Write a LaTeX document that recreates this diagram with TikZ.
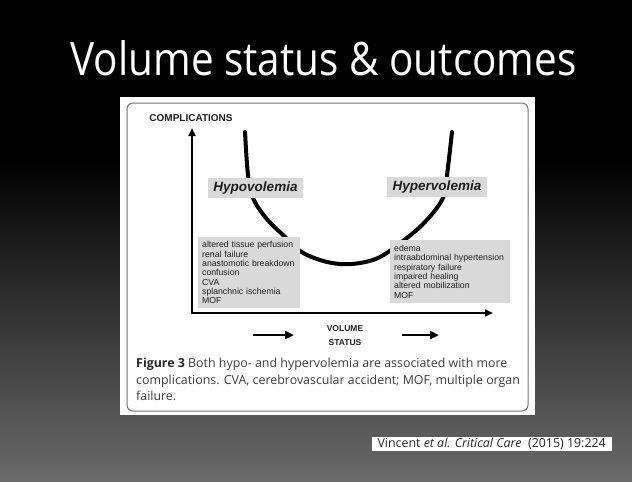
\documentclass[tikz,border=0pt]{standalone}
\usepackage{fontspec}
\setmainfont{Open Sans}
\newfontfamily\arialf{Liberation Sans}
\usetikzlibrary{arrows.meta}
\definecolor{lblgray}{HTML}{D9D9D9}
\definecolor{txtdark}{HTML}{1E1E1E}
\definecolor{capgray}{HTML}{3C3C3C}
\tikzset{
  axisline/.style={line width=2.4pt, line join=miter, {Triangle[length=8pt,width=7pt]}-{Triangle[length=8pt,width=7pt]}},
  flowarrow/.style={line width=2.8pt, -{Triangle[length=9pt,width=8pt]}},
  curveline/.style={line width=4pt, line cap=round},
  grouplabel/.style={fill=lblgray, inner sep=0pt, text=txtdark, font=\arialf\bfseries\itshape\fontsize{13.5}{14}\selectfont},
  listbox/.style={fill=lblgray, anchor=north west, align=left, inner xsep=4pt, inner ysep=3pt, text=txtdark, font=\arialf\fontsize{8.7}{9.3}\selectfont},
  axislabel/.style={text=txtdark, font=\arialf\bfseries\fontsize{8.5}{9}\selectfont, inner sep=0pt},
  captext/.style={anchor=base west, inner sep=0pt, text=capgray, font=\fontsize{12.4}{14}\selectfont},
}
\begin{document}
\begin{tikzpicture}[x=1pt,y=-1pt]
\useasboundingbox (0,0) rectangle (632,482);
% background
\fill[black] (0,0) rectangle (632,161);
\shade[top color=black, bottom color=black!58] (0,160) rectangle (632,482);
% title
\node[text=white, font=\fontsize{46}{50}\selectfont, inner sep=0pt, anchor=base] (title) at (323.5,75) {\scalebox{0.88}[1]{Volume status \& outcomes}};
% figure panel
\fill[white] (120,97) rectangle (535,415);
\draw[black!55, line width=1pt, rounded corners=6pt] (127,103) rectangle (528,411);
% axes
\coordinate (ytip) at (192,128);
\coordinate (origin) at (192,313);
\coordinate (xtip) at (493,313);
\draw[axisline] (ytip) -- (origin) -- (xtip);
\node[axislabel, font=\arialf\bfseries\fontsize{10}{11}\selectfont] (compl) at (191,118) {COMPLICATIONS};
% U curve
\draw[curveline] plot[smooth, tension=0.6] coordinates {(245,132) (248,175) (253,198) (266,218) (283,235) (300,251) (320,260) (340,264) (360,263) (380,257) (403,241) (425,222) (443,198) (447,175) (452,132)};
% group labels
\node[grouplabel, minimum width=95pt, minimum height=20pt] (hypo) at (255.5,188) {Hypovolemia};
\node[grouplabel, minimum width=100pt, minimum height=20pt] (hyper) at (437,187) {Hypervolemia};
% lists
\node[listbox, text width=94pt, minimum height=71pt] (hypolist) at (198,237) {altered tissue perfusion\\renal failure\\anastomotic breakdown\\confusion\\CVA\\splanchnic ischemia\\MOF};
\node[listbox, text width=112pt, minimum height=63pt] (hyperlist) at (390,240) {edema\\intraabdominal hypertension\\respiratory failure\\impaired healing\\altered mobilization\\MOF};
% volume status
\node[axislabel] (vol) at (345,329) {VOLUME};
\node[axislabel] (stat) at (345,343) {STATUS};
\coordinate (a1s) at (253,335);
\coordinate (a1e) at (294,335);
\coordinate (a2s) at (402,335);
\coordinate (a2e) at (439,335);
\draw[flowarrow] (a1s) -- (a1e);
\draw[flowarrow] (a2s) -- (a2e);
% caption
\node[captext] (cap1) at (136,367) {\textbf{\color{black!85}Figure 3} Both hypo- and hypervolemia are associated with more};
\node[captext] (cap2) at (136,384) {complications. CVA, cerebrovascular accident; MOF, multiple organ};
\node[captext] (cap3) at (136,400) {failure.};
% citation
\node[fill=white, anchor=east, inner xsep=6pt, inner ysep=1.5pt, text=black!85, font=\fontsize{12.4}{13}\selectfont] (cite) at (612,444) {Vincent \textit{et al. Critical Care}\ \ (2015) 19:224};
\end{tikzpicture}
\end{document}
